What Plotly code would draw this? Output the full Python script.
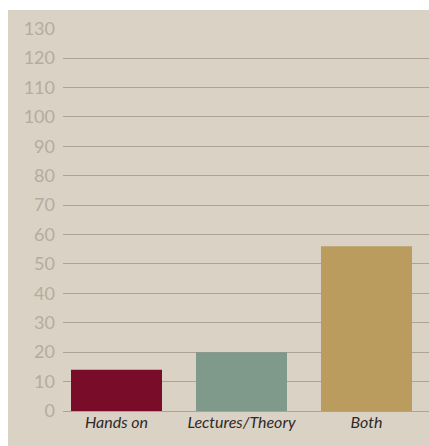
import plotly.graph_objects as go

categories = ["Hands on", "Lectures/Theory", "Both"]
values = [14, 20, 56]
bar_colors = ["#790C28", "#7F998B", "#B99C5E"]
y_ticks = list(range(0, 131, 10))

W, H = 429, 446
L, R, T, B = 63, 0, 28, 35
pw, ph = W - L - R, H - T - B

fig = go.Figure(go.Bar(
    x=[0, 1, 2], y=values, marker=dict(color=bar_colors, line=dict(width=0)),
    width=0.728, hoverinfo="skip",
))

# beige card behind the chart
fig.add_shape(type="rect", xref="paper", yref="paper", layer="below",
              x0=(8 - L) / pw, x1=1.0, y0=-B / ph - 0.01, y1=(ph + T - 10) / ph,
              fillcolor="#DAD2C5", line=dict(width=0))

fig.update_layout(
    width=W, height=H,
    margin=dict(l=L, r=R, t=T, b=B, autoexpand=False),
    paper_bgcolor="white", plot_bgcolor="rgba(0,0,0,0)",
    showlegend=False,
    xaxis=dict(
        range=[-0.428, 2.5],
        tickmode="array", tickvals=[0, 1, 2], ticktext=categories,
        showgrid=False, zeroline=False, showline=False,
        ticks="", ticklabelstandoff=0,
        tickfont=dict(family="Lato", size=16, color="#2E2A28", style="italic"),
    ),
    yaxis=dict(
        range=[0, 130.2], tickmode="array", tickvals=y_ticks,
        showgrid=True, gridcolor="#ADA394", gridwidth=1,
        zeroline=True, zerolinecolor="#ADA394", zerolinewidth=1,
        showline=False, ticks="", ticklabelstandoff=7,
        tickfont=dict(family="Lato", size=18, color="#B5AC9E"),
    ),
)

fig.write_html(
    "out.html",
    config={"displayModeBar": False},
    post_script="document.body.style.margin='0';document.body.style.overflow='hidden';",
)
